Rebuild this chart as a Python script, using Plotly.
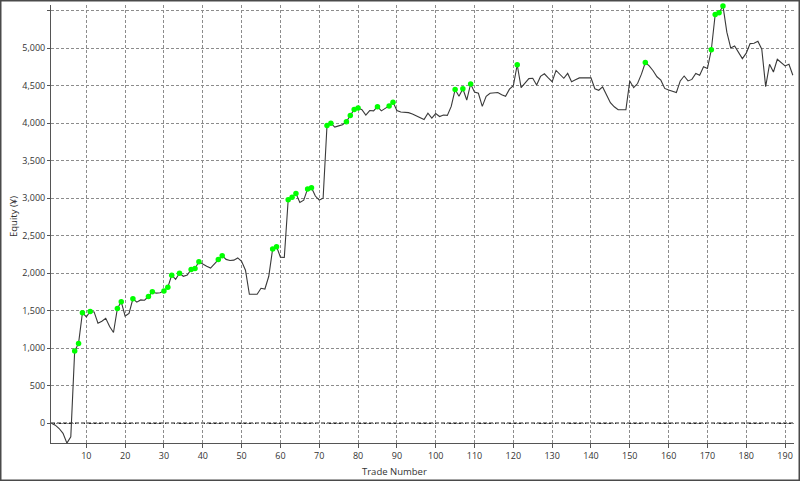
import plotly.graph_objects as go

# Equity per trade number (trades 1..192)
trade_numbers = list(range(1, 193))
equity = [
    0, -25, -70, -135, -265, -180, 965, 1065, 1475, 1420,          # 1-10
    1490, 1485, 1335, 1360, 1400, 1290, 1210, 1530, 1620, 1430,    # 11-20
    1465, 1660, 1615, 1645, 1640, 1690, 1755, 1735, 1740, 1765,    # 21-30
    1815, 1975, 1920, 2000, 1960, 1975, 2050, 2065, 2155, 2120,    # 31-40
    2095, 2070, 2130, 2185, 2235, 2185, 2170, 2175, 2205, 2160,    # 41-50
    2040, 1720, 1720, 1720, 1800, 1790, 1960, 2325, 2355, 2215,    # 51-60
    2210, 2980, 3015, 3065, 2945, 2975, 3125, 3140, 3030, 2975,    # 61-70
    3000, 3970, 4002, 3950, 3965, 3980, 4022, 4105, 4185, 4205,    # 71-80
    4180, 4110, 4170, 4165, 4222, 4165, 4200, 4232, 4282, 4170,    # 81-90
    4150, 4147, 4142, 4124, 4100, 4075, 4050, 4135, 4070, 4130,    # 91-100
    4090, 4110, 4105, 4225, 4450, 4360, 4460, 4310, 4525, 4415,    # 101-110
    4400, 4225, 4360, 4400, 4400, 4410, 4380, 4360, 4455, 4500,    # 111-120
    4780, 4475, 4535, 4595, 4600, 4510, 4625, 4660, 4605, 4555,    # 121-130
    4705, 4645, 4600, 4665, 4555, 4580, 4605, 4605, 4605, 4605,    # 131-140
    4460, 4440, 4485, 4380, 4275, 4220, 4180, 4180, 4180, 4565,    # 141-150
    4475, 4530, 4655, 4810, 4765, 4700, 4620, 4575, 4465, 4445,    # 151-160
    4430, 4410, 4565, 4630, 4565, 4585, 4665, 4640, 4755, 4730,    # 161-170
    4980, 5450, 5475, 5565, 5215, 5005, 5030, 4950, 4862, 4935,    # 171-180
    5062, 5067, 5093, 4987, 4489, 4787, 4684, 4853, 4809, 4764,    # 181-190
    4787, 4640,                                                    # 191-192
]

# Trades that set a new equity high (green markers)
new_high_trades = [7, 8, 9, 11, 18, 19, 22, 26, 27, 30, 31, 32, 34, 37, 38, 39,
                   44, 45, 58, 59, 62, 63, 64, 67, 68, 72, 73, 77, 78, 79, 80,
                   85, 88, 89, 105, 107, 109, 121, 154, 171, 172, 173, 174]

y_tick_vals = [0, 500, 1000, 1500, 2000, 2500, 3000, 3500, 4000, 4500, 5000, 5500]
y_tick_text = ["0", "500", "1,000", "1,500", "2,000", "2,500", "3,000",
               "3,500", "4,000", "4,500", "5,000", ""]
x_tick_vals = list(range(10, 200, 10))

high_y = [equity[trade_numbers.index(t)] for t in new_high_trades]

FONT = "Open Sans"
TXT = "#333333"

fig = go.Figure()
fig.add_trace(go.Scatter(
    x=trade_numbers, y=equity, mode="lines",
    line=dict(color="#3a3a3a", width=1.1),
    showlegend=False, hoverinfo="x+y",
))
fig.add_trace(go.Scatter(
    x=new_high_trades, y=high_y, mode="markers",
    marker=dict(color="#00ff00", size=5.5, line=dict(width=0)),
    cliponaxis=False, showlegend=False,
))

W, H = 800, 481
L, R, T, B = 51, 6, 5, 38
pw, ph = W - L - R, H - T - B


def px_x(px):
    return (px - L) / pw


def px_y(py):
    return (H - B - py) / ph


fig.update_layout(
    width=W, height=H,
    margin=dict(l=L, r=R, t=T, b=B, autoexpand=False),
    paper_bgcolor="white", plot_bgcolor="white",
    font=dict(family=FONT, size=9, color=TXT),
    xaxis=dict(
        range=[0.9, 192.3], tickmode="array", tickvals=x_tick_vals,
        showgrid=True, gridcolor="#8c8c8c", gridwidth=1, griddash="3px,2px",
        zeroline=False, showline=True, linecolor="#555555", linewidth=1,
        ticks="outside", ticklen=4, tickcolor="#555555",
        tickfont=dict(family=FONT, size=9, color=TXT), automargin=False,
    ),
    yaxis=dict(
        range=[-263, 5577], tickmode="array", tickvals=y_tick_vals,
        ticktext=y_tick_text,
        showgrid=True, gridcolor="#8c8c8c", gridwidth=1, griddash="3px,2px",
        zeroline=False, showline=True, linecolor="#555555", linewidth=1,
        ticks="outside", ticklen=3, tickcolor="#555555",
        tickfont=dict(family=FONT, size=9, color=TXT), automargin=False,
    ),
    shapes=[
        dict(type="line", xref="paper", yref="y", x0=0, x1=1, y0=0, y1=0,
             line=dict(color="#222222", width=1.5, dash="4px,2px"), layer="below"),
        dict(type="rect", xref="paper", yref="paper",
             x0=px_x(0.75), x1=px_x(799.25), y0=px_y(480.25), y1=px_y(0.75),
             line=dict(color="#4a4a4a", width=1.5), fillcolor="rgba(0,0,0,0)"),
    ],
    annotations=[
        dict(text="Trade Number", xref="paper", yref="paper",
             x=px_x(394), y=px_y(471), xanchor="center", yanchor="middle",
             showarrow=False, font=dict(family=FONT, size=9.5, color=TXT)),
        dict(text="Equity (¥)", xref="paper", yref="paper",
             x=px_x(13), y=px_y(217), xanchor="center", yanchor="middle",
             textangle=-90, showarrow=False,
             font=dict(family=FONT, size=9.5, color=TXT)),
    ],
)

fig.write_html(
    "out.html",
    config={"displayModeBar": False},
    post_script="document.body.style.margin='0';document.body.style.padding='0';",
)
